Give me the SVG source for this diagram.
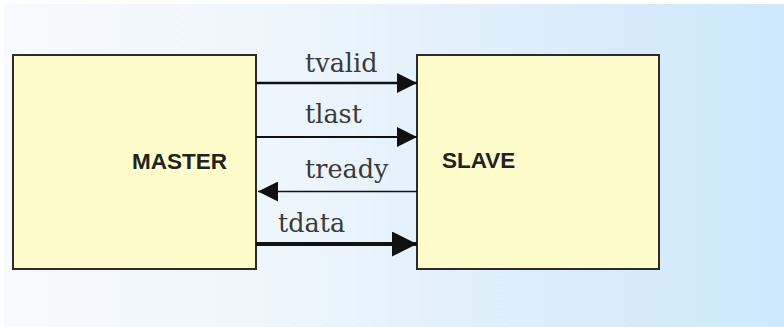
<svg xmlns="http://www.w3.org/2000/svg" width="784" height="327" viewBox="0 0 784 327">
  <defs>
    <linearGradient id="bg" x1="0" y1="0" x2="1" y2="0">
      <stop offset="0" stop-color="#f8fafc"/>
      <stop offset="0.35" stop-color="#eef6fc"/>
      <stop offset="0.75" stop-color="#d9ecfa"/>
      <stop offset="1" stop-color="#cde9fb"/>
    </linearGradient>
    <marker id="headM" viewBox="0 0 10 10" refX="10" refY="5" markerUnits="userSpaceOnUse" markerWidth="22" markerHeight="20" orient="auto">
      <path d="M0,0 L10,5 L0,10 z" fill="#111"/>
    </marker>
    <marker id="headL" viewBox="0 0 10 10" refX="10" refY="5" markerUnits="userSpaceOnUse" markerWidth="29" markerHeight="25" orient="auto">
      <path d="M0,0 L10,5 L0,10 z" fill="#111"/>
    </marker>
  </defs>
  <style>
    .box { fill: #fffccc; stroke: #2b2b2b; stroke-width: 2; }
    .title { font-family: "Liberation Sans", Arial, sans-serif; font-weight: bold; font-size: 22.5px; fill: #222; }
    .sig { font-family: "DejaVu Serif", "Liberation Serif", serif; font-size: 25.5px; fill: #3a3a3a; }
    .wire { stroke: #111; fill: none; }
  </style>

  <rect x="0" y="0" width="784" height="327" fill="#ffffff"/>
  <rect x="4" y="4" width="780" height="323" fill="url(#bg)"/>

  <g id="master">
    <rect class="box" x="13" y="55" width="243" height="214"/>
    <text class="title" x="132" y="169">MASTER</text>
  </g>

  <g id="slave">
    <rect class="box" x="417" y="55" width="242" height="214"/>
    <text class="title" x="442" y="168">SLAVE</text>
  </g>

  <g id="connectors">
    <line class="wire" x1="256" y1="83" x2="417" y2="83" stroke-width="2.5" marker-end="url(#headM)"/>
    <line class="wire" x1="256" y1="137" x2="417" y2="137" stroke-width="2" stroke="#555" marker-end="url(#headM)"/>
    <line class="wire" x1="417" y1="191.5" x2="258" y2="191.5" stroke-width="1.6" marker-end="url(#headM)"/>
    <line class="wire" x1="256" y1="244" x2="417" y2="244" stroke-width="4" marker-end="url(#headL)"/>
  </g>

  <g id="labels">
    <text class="sig" x="305" y="72">tvalid</text>
    <text class="sig" x="305" y="123">tlast</text>
    <text class="sig" x="305" y="178">tready</text>
    <text class="sig" x="278" y="232">tdata</text>
  </g>
</svg>
